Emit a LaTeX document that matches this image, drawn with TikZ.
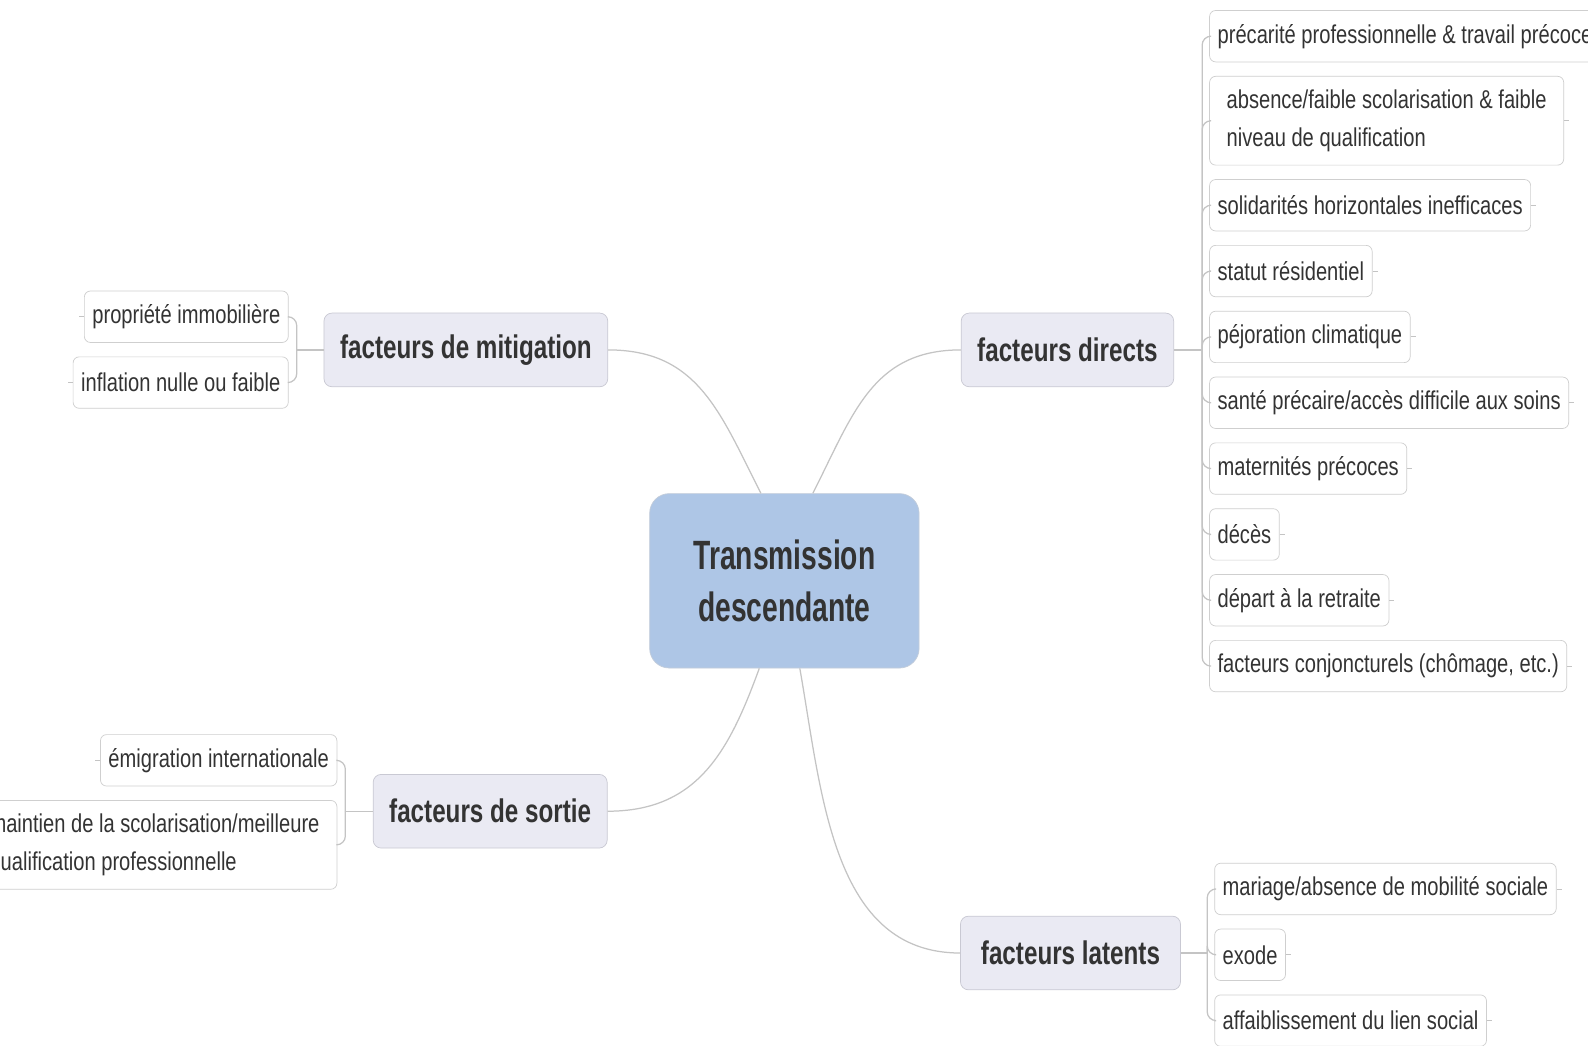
\documentclass[tikz,border=0pt]{standalone}
\usepackage{fontspec}
\setmainfont{Liberation Sans}[FakeStretch=0.78]
\newfontfamily\topicfam{Liberation Sans}[FakeStretch=0.74]
\newfontfamily\rootfam{Liberation Sans}[FakeStretch=0.69]
\usetikzlibrary{positioning}

\definecolor{txtgray}{HTML}{333333}
\definecolor{linegray}{HTML}{C4C4C4}
\definecolor{boxline}{HTML}{CFCFCF}
\definecolor{topicfill}{HTML}{EAEAF3}
\definecolor{topicline}{HTML}{C9C9D3}
\definecolor{rootfill}{HTML}{AEC6E6}
\definecolor{rootline}{HTML}{C2CCDA}

\tikzset{
  leafbox/.style={draw=boxline, fill=white, rounded corners=3.4pt, text=txtgray,
    font=\fontsize{14.5pt}{21.5pt}\selectfont, inner xsep=4.5pt, minimum height=28.9pt},
  leaftwo/.style={leafbox, align=left, minimum width=199pt, minimum height=49.9pt},
  topicbox/.style={draw=topicline, fill=topicfill, rounded corners=4.5pt, text=txtgray,
    font=\topicfam\bfseries\fontsize{18.4pt}{22pt}\selectfont, inner xsep=9pt, minimum height=41.4pt},
  rootbox/.style={draw=rootline, fill=rootfill, rounded corners=11pt, text=txtgray,
    font=\rootfam\bfseries\fontsize{23pt}{29.5pt}\selectfont, align=center,
    minimum width=151.4pt, minimum height=98pt},
  linkline/.style={draw=linegray, line width=0.7pt},
  stubline/.style={draw=linegray, line width=0.5pt}
}

\begin{document}
\begin{tikzpicture}[x=0.02cm, y=0.02cm, node distance=7.7pt]
\fill[white] (0,0) rectangle (1568,-1032);
\useasboundingbox (0,0) rectangle (1568,-1032);

% centre and main branches
\node[rootbox] (root) at (774.5,-573.5) {Transmission\\descendante};
\node[topicbox] (mitig) at (460,-345.5) {facteurs de mitigation};
\node[topicbox] (direct) at (1054,-345.5) {facteurs directs};
\node[topicbox] (sortie) at (484,-801) {facteurs de sortie};
\node[topicbox, inner xsep=11.5pt] (latent) at (1057,-941) {facteurs latents};

\coordinate (mhub) at (293,-345.5);
\coordinate (dhub) at (1187,-345.5);
\coordinate (shub) at (341,-801);
\coordinate (lhub) at (1192,-941);

% facteurs directs
\node[leafbox, anchor=north west] (d1) at (1194,-10) {précarité professionnelle \& travail précoce};
\node[leaftwo, below=of d1.south west, anchor=north west] (d2) {absence/faible scolarisation \& faible\\niveau de qualification};
\node[leafbox, below=of d2.south west, anchor=north west] (d3) {solidarités horizontales inefficaces};
\node[leafbox, below=of d3.south west, anchor=north west] (d4) {statut résidentiel};
\node[leafbox, below=of d4.south west, anchor=north west] (d5) {péjoration climatique};
\node[leafbox, below=of d5.south west, anchor=north west] (d6) {santé précaire/accès difficile aux soins};
\node[leafbox, below=of d6.south west, anchor=north west] (d7) {maternités précoces};
\node[leafbox, below=of d7.south west, anchor=north west] (d8) {décès};
\node[leafbox, below=of d8.south west, anchor=north west] (d9) {départ à la retraite};
\node[leafbox, below=of d9.south west, anchor=north west] (d10) {facteurs conjoncturels (chômage, etc.)};

% facteurs de mitigation
\node[leafbox, anchor=north east] (m1) at (285,-287) {propriété immobilière};
\node[leafbox, below=of m1.south east, anchor=north east] (m2) {inflation nulle ou faible};

% facteurs de sortie
\node[leafbox, anchor=north east] (s1) at (333,-725) {émigration internationale};
\node[leaftwo, minimum width=205pt, below=of s1.south east, anchor=north east] (s2) {maintien de la scolarisation/meilleure\\qualification professionnelle};

% facteurs latents
\node[leafbox, anchor=north west] (l1) at (1199,-852) {mariage/absence de mobilité sociale};
\node[leafbox, below=of l1.south west, anchor=north west] (l2) {exode};
\node[leafbox, below=of l2.south west, anchor=north west] (l3) {affaiblissement du lien social};

% root to branches
\draw[linkline] (root.105.8) to[out=117, in=0, looseness=1.1] (mitig.east);
\draw[linkline] (root.72.4) to[out=63, in=180, looseness=1.1] (direct.west);
\draw[linkline] (root.254.2) to[out=250, in=0, looseness=1.1] (sortie.east);
\draw[linkline] (root.280.2) to[out=280, in=180, looseness=1] (latent.west);

% branches to leaves
\draw[linkline] (direct) -- (dhub);
\draw[linkline, rounded corners=5pt] (dhub) |- (d1.west);
\draw[linkline, rounded corners=5pt] (dhub) |- (d2.west);
\draw[linkline, rounded corners=5pt] (dhub) |- (d3.west);
\draw[linkline, rounded corners=5pt] (dhub) |- (d4.west);
\draw[linkline, rounded corners=5pt] (dhub) |- (d5.west);
\draw[linkline, rounded corners=5pt] (dhub) |- (d6.west);
\draw[linkline, rounded corners=5pt] (dhub) |- (d7.west);
\draw[linkline, rounded corners=5pt] (dhub) |- (d8.west);
\draw[linkline, rounded corners=5pt] (dhub) |- (d9.west);
\draw[linkline, rounded corners=5pt] (dhub) |- (d10.west);

\draw[linkline] (mitig) -- (mhub);
\draw[linkline, rounded corners=5pt] (mhub) |- (m1.east);
\draw[linkline, rounded corners=5pt] (mhub) |- (m2.east);

\draw[linkline] (sortie) -- (shub);
\draw[linkline, rounded corners=5pt] (shub) |- (s1.east);
\draw[linkline, rounded corners=5pt] (shub) |- (s2.east);

\draw[linkline] (latent) -- (lhub);
\draw[linkline, rounded corners=5pt] (lhub) |- (l1.west);
\draw[linkline, rounded corners=5pt] (lhub) |- (l2.west);
\draw[linkline, rounded corners=5pt] (lhub) |- (l3.west);

% collapse stubs
\draw[stubline] (d2.east) -- ++(5,0);
\draw[stubline] (d3.east) -- ++(5,0);
\draw[stubline] (d4.east) -- ++(5,0);
\draw[stubline] (d5.east) -- ++(5,0);
\draw[stubline] (d6.east) -- ++(5,0);
\draw[stubline] (d7.east) -- ++(5,0);
\draw[stubline] (d8.east) -- ++(5,0);
\draw[stubline] (d9.east) -- ++(5,0);
\draw[stubline] (d10.east) -- ++(5,0);
\draw[stubline] (m1.west) -- ++(-5,0);
\draw[stubline] (m2.west) -- ++(-5,0);
\draw[stubline] (s1.west) -- ++(-5,0);
\draw[stubline] (l1.east) -- ++(5,0);
\draw[stubline] (l2.east) -- ++(5,0);
\draw[stubline] (l3.east) -- ++(5,0);
\end{tikzpicture}
\end{document}
